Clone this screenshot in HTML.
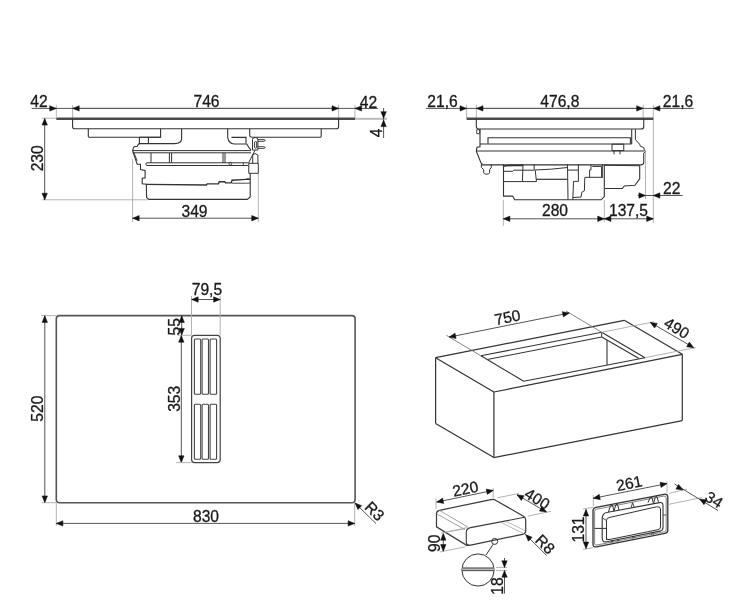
<!DOCTYPE html>
<html><head><meta charset="utf-8"><style>
html,body{margin:0;padding:0;background:#fff;}
svg{display:block;font-family:"Liberation Sans",sans-serif;will-change:transform;}
</style></head><body>
<svg width="750" height="600" viewBox="0 0 750 600">
<rect width="750" height="600" fill="#fff"/>
<line x1="56.3" y1="105" x2="56.3" y2="117" stroke="#aaa" stroke-width="0.9"/>
<line x1="72.6" y1="105" x2="72.6" y2="119" stroke="#aaa" stroke-width="0.9"/>
<line x1="338.6" y1="105" x2="338.6" y2="119" stroke="#aaa" stroke-width="0.9"/>
<line x1="355" y1="105" x2="355" y2="119" stroke="#aaa" stroke-width="0.9"/>
<line x1="31.7" y1="108.4" x2="378" y2="108.4" stroke="#555" stroke-width="1.0"/>
<path d="M56.30,108.40 L49.70,111.10 L49.70,105.70 Z" fill="#111" stroke="#111" stroke-width="0.5" stroke-linejoin="round"/>
<line x1="72.6" y1="108.4" x2="338.6" y2="108.4" stroke="#555" stroke-width="1.0"/>
<path d="M72.60,108.40 L79.20,105.70 L79.20,111.10 Z" fill="#111" stroke="#111" stroke-width="0.5" stroke-linejoin="round"/>
<path d="M338.60,108.40 L332.00,111.10 L332.00,105.70 Z" fill="#111" stroke="#111" stroke-width="0.5" stroke-linejoin="round"/>
<path d="M355.00,108.40 L361.60,105.70 L361.60,111.10 Z" fill="#111" stroke="#111" stroke-width="0.5" stroke-linejoin="round"/>
<text x="0" y="5.98" font-size="15.6" text-anchor="middle" fill="#1a1a1a" stroke="#1a1a1a" stroke-width="0.3" transform="translate(38.9 101.1) rotate(0) scale(1.0 1)">42</text>
<text x="0" y="5.98" font-size="15.6" text-anchor="middle" fill="#1a1a1a" stroke="#1a1a1a" stroke-width="0.3" transform="translate(206.5 100.7) rotate(0) scale(1.0 1)">746</text>
<text x="0" y="5.98" font-size="15.6" text-anchor="middle" fill="#1a1a1a" stroke="#1a1a1a" stroke-width="0.3" transform="translate(368.5 101.6) rotate(0) scale(1.0 1)">42</text>
<line x1="355" y1="118.8" x2="387" y2="118.8" stroke="#bbb" stroke-width="2.0"/>
<line x1="339" y1="128.6" x2="386" y2="128.6" stroke="#aaa" stroke-width="0.0"/>
<line x1="383.6" y1="108" x2="383.6" y2="138" stroke="#555" stroke-width="1.0"/>
<path d="M383.60,118.30 L380.90,111.70 L386.30,111.70 Z" fill="#111" stroke="#111" stroke-width="0.5" stroke-linejoin="round"/>
<path d="M383.60,120.00 L386.30,126.60 L380.90,126.60 Z" fill="#111" stroke="#111" stroke-width="0.5" stroke-linejoin="round"/>
<text x="0" y="5.98" font-size="15.6" text-anchor="middle" fill="#1a1a1a" stroke="#1a1a1a" stroke-width="0.3" transform="translate(376.2 132.9) rotate(-90) scale(1.0 1)">4</text>
<line x1="41.7" y1="118.2" x2="56" y2="118.2" stroke="#aaa" stroke-width="0.9"/>
<line x1="41.7" y1="199.8" x2="148" y2="199.8" stroke="#aaa" stroke-width="0.9"/>
<line x1="44.7" y1="118.5" x2="44.7" y2="199.8" stroke="#555" stroke-width="1.0"/>
<path d="M44.70,118.50 L47.40,125.10 L42.00,125.10 Z" fill="#111" stroke="#111" stroke-width="0.5" stroke-linejoin="round"/>
<path d="M44.70,199.80 L42.00,193.20 L47.40,193.20 Z" fill="#111" stroke="#111" stroke-width="0.5" stroke-linejoin="round"/>
<text x="0" y="5.98" font-size="15.6" text-anchor="middle" fill="#1a1a1a" stroke="#1a1a1a" stroke-width="0.3" transform="translate(37.5 158.3) rotate(-90) scale(1.0 1)">230</text>
<line x1="132.6" y1="159" x2="132.6" y2="222" stroke="#aaa" stroke-width="0.9"/>
<line x1="258.3" y1="173.7" x2="258.3" y2="222" stroke="#aaa" stroke-width="0.9"/>
<line x1="132.6" y1="218.2" x2="258.3" y2="218.2" stroke="#555" stroke-width="1.0"/>
<path d="M132.60,218.20 L139.20,215.50 L139.20,220.90 Z" fill="#111" stroke="#111" stroke-width="0.5" stroke-linejoin="round"/>
<path d="M258.30,218.20 L251.70,220.90 L251.70,215.50 Z" fill="#111" stroke="#111" stroke-width="0.5" stroke-linejoin="round"/>
<text x="0" y="5.98" font-size="15.6" text-anchor="middle" fill="#1a1a1a" stroke="#1a1a1a" stroke-width="0.3" transform="translate(194.5 211.2) rotate(0) scale(1.0 1)">349</text>
<line x1="56.3" y1="118.8" x2="355" y2="118.8" stroke="#4a4a4a" stroke-width="2.4"/>
<path d="M72.6,119 V126.4 Q72.6,128.8 75,128.8 H336.2 Q338.6,128.8 338.6,126.4 V119" stroke="#333" stroke-width="1.1" fill="none" />
<path d="M88.3,128.8 V136.6 Q88.3,137.2 89,137.2 H160.6 V128.8" stroke="#333" stroke-width="1.1" fill="none" />
<path d="M249.7,128.8 V135.5 Q249.9,137.2 252.6,137.2 H320.5 Q321.2,137.2 321.2,136.6 V128.8" stroke="#333" stroke-width="1.1" fill="none" />
<path d="M139.4,137.2 H160.6 M181.6,128.8 V138.5 Q181.6,143.4 174.5,143.6 H139.4 V137.2 M148.4,137.2 V143.5" stroke="#333" stroke-width="1.1" fill="none" />
<path d="M227.7,128.8 V137.4 Q228.8,144 234.3,144 H246.8 L249,147.7 L251,149.9 M231.4,137.4 H246 V143.3" stroke="#333" stroke-width="1.1" fill="none" />
<path d="M139.4,143.5 L138.4,144.2 L137.2,146.25 L134.25,146.7 L133.4,147.9 L132.6,150.8 L137.2,164.2 L140.5,164.2 L140.5,169.6 L145.1,170.4 L145.1,177.9 L142.2,178.3 L142.2,183.75 L146.3,184.2 L146.6,197.5 L149,199.4 L247.2,199.4 L250.2,197 L250.2,173.5" stroke="#333" stroke-width="1.1" fill="none" />
<line x1="132.6" y1="150.6" x2="251" y2="150.6" stroke="#333" stroke-width="1.0"/>
<line x1="132.8" y1="152.8" x2="251" y2="152.8" stroke="#333" stroke-width="1.0"/>
<line x1="133.8" y1="152.5" x2="137.2" y2="160.8" stroke="#333" stroke-width="0.9"/>
<path d="M146.5,162.8 H248.3 M146.5,165.5 H248.3 M146.5,162.8 Q145,164.1 146.5,165.5" stroke="#333" stroke-width="1.0" fill="none" />
<line x1="151" y1="153" x2="151" y2="162.8" stroke="#333" stroke-width="1.0"/>
<line x1="169.4" y1="153" x2="169.4" y2="162.8" stroke="#333" stroke-width="1.0"/>
<line x1="171.6" y1="153" x2="171.6" y2="162.8" stroke="#333" stroke-width="1.0"/>
<line x1="223" y1="153" x2="223" y2="162.8" stroke="#333" stroke-width="1.0"/>
<line x1="225" y1="153" x2="225" y2="162.8" stroke="#333" stroke-width="1.0"/>
<circle cx="230.3" cy="163.7" r="1.4" fill="none" stroke="#333" stroke-width="0.8"/>
<path d="M146.3,184.4 L206.4,185 L207.2,183.9 L218.4,183.9 L219.2,181.8 L224.8,181.8 L225.6,182.9 L231.2,182.9 L232,180.2 L246.4,179.4 L250.2,179.4" stroke="#333" stroke-width="1.4" fill="none" />
<path d="M246.4,178.8 Q248.5,178.6 250.2,179 M246.4,183.2 Q248.5,183.4 250.2,183" stroke="#333" stroke-width="0.9" fill="none" />
<line x1="232" y1="183.2" x2="246.4" y2="183.2" stroke="#333" stroke-width="0.9"/>
<path d="M252.5,150 V139.5 Q252.5,137.5 255.2,137.5 Q257.9,137.5 257.9,139.5 V150 Z M254.6,142 Q255.6,140.8 256.7,142 V147.6 Q255.6,148.8 254.6,147.6 Z" stroke="#333" stroke-width="1.0" fill="none" />
<path d="M257.9,139.6 H264 L265.4,140.4 L264,141.3 H257.9" stroke="#333" stroke-width="0.9" fill="none" />
<path d="M257.9,146.7 H264 L265.4,147.5 L264,148.4 H257.9" stroke="#333" stroke-width="0.9" fill="none" />
<path d="M248.75,163.3 H258.3 V173.3 H248.75 Z M255,150.2 L248.5,163.1 M252.7,155 V163.3 M257.9,155 V163.3 M252.7,155 Q255,152 257.9,155" stroke="#333" stroke-width="1.0" fill="none" />
<line x1="243.3" y1="162.5" x2="243.3" y2="165.3" stroke="#333" stroke-width="0.8"/>
<line x1="466.6" y1="105" x2="466.6" y2="118" stroke="#aaa" stroke-width="0.9"/>
<line x1="476.4" y1="105" x2="476.4" y2="119" stroke="#aaa" stroke-width="0.9"/>
<line x1="643.2" y1="105" x2="643.2" y2="119" stroke="#aaa" stroke-width="0.9"/>
<line x1="653.3" y1="105" x2="653.3" y2="223" stroke="#aaa" stroke-width="0.9"/>
<line x1="426" y1="108.4" x2="693.6" y2="108.4" stroke="#555" stroke-width="1.0"/>
<path d="M466.60,108.40 L460.00,111.10 L460.00,105.70 Z" fill="#111" stroke="#111" stroke-width="0.5" stroke-linejoin="round"/>
<line x1="476.4" y1="108.4" x2="643.2" y2="108.4" stroke="#555" stroke-width="1.0"/>
<path d="M476.40,108.40 L483.00,105.70 L483.00,111.10 Z" fill="#111" stroke="#111" stroke-width="0.5" stroke-linejoin="round"/>
<path d="M643.20,108.40 L636.60,111.10 L636.60,105.70 Z" fill="#111" stroke="#111" stroke-width="0.5" stroke-linejoin="round"/>
<path d="M653.30,108.40 L659.90,105.70 L659.90,111.10 Z" fill="#111" stroke="#111" stroke-width="0.5" stroke-linejoin="round"/>
<text x="0" y="5.98" font-size="15.6" text-anchor="middle" fill="#1a1a1a" stroke="#1a1a1a" stroke-width="0.3" transform="translate(442.5 101.3) rotate(0) scale(1.0 1)">21,6</text>
<text x="0" y="5.98" font-size="15.6" text-anchor="middle" fill="#1a1a1a" stroke="#1a1a1a" stroke-width="0.3" transform="translate(559.8 101.2) rotate(0) scale(1.0 1)">476,8</text>
<text x="0" y="5.98" font-size="15.6" text-anchor="middle" fill="#1a1a1a" stroke="#1a1a1a" stroke-width="0.3" transform="translate(678 101.2) rotate(0) scale(1.0 1)">21,6</text>
<line x1="466.6" y1="118.7" x2="653.3" y2="118.7" stroke="#4a4a4a" stroke-width="2.4"/>
<path d="M476.3,119 V126.3 Q476.5,129 478.7,129 H640.8 Q643.75,129 643.75,126.7 V119" stroke="#333" stroke-width="1.1" fill="none" />
<path d="M476.7,129.7 H479.7 V133.7 H476.7 Z" stroke="#333" stroke-width="0.9" fill="none" />
<path d="M488,143.8 V137.7 H630.4 V143.8 M631.7,129.2 V144" stroke="#333" stroke-width="1.1" fill="none" />
<path d="M480,129 L480,144 L480,146.7 L477,147.3 L476.3,151.3 L481,163 L482.5,164.4" stroke="#333" stroke-width="1.1" fill="none" />
<line x1="480" y1="144" x2="631.7" y2="144" stroke="#333" stroke-width="1.1"/>
<line x1="476.3" y1="151.0" x2="644" y2="151.0" stroke="#333" stroke-width="1.1"/>
<path d="M481,164.9 H640.4 Q643.75,164.9 643.75,162.5 V153.3" stroke="#333" stroke-width="1.1" fill="none" />
<path d="M481.3,164.5 V167.3 L483.7,169.7 V172.8 Q484,174.2 486.5,174.2 Q489.3,174.2 489.6,172.8 V169.7 L491.3,167.3 V164.5" stroke="#333" stroke-width="1.0" fill="none" />
<path d="M635.4,129.2 L635.4,139.6 L639.6,144.2 L640.4,146.25 L643.75,147.5 L644.2,150 L645.4,151.25 L643.75,153.3" stroke="#333" stroke-width="1.0" fill="none" />
<path d="M612,144.2 H623.75 V150.6 H612 Z M614,150.6 V154.3 M620,150.6 V154.3" stroke="#333" stroke-width="1.0" fill="none" />
<path d="M503.5,164.3 L503.5,196.1 L512.7,196.1 L514.6,199.6 L601.3,199.8 L604.3,196.5 L604.3,164.5" stroke="#333" stroke-width="1.1" fill="none" />
<path d="M503.5,166.3 Q507,165.6 511.8,165.4 H523" stroke="#333" stroke-width="1.6" fill="none" />
<path d="M503.5,171.3 L512.7,171.3 L513.7,170.2 L534.2,170.2" stroke="#333" stroke-width="1.0" fill="none" />
<line x1="523" y1="164.3" x2="522.4" y2="181.6" stroke="#333" stroke-width="1.0"/>
<line x1="534.2" y1="164.3" x2="534.2" y2="170.2" stroke="#333" stroke-width="1.0"/>
<line x1="535.2" y1="170.2" x2="536.5" y2="181.6" stroke="#333" stroke-width="1.0"/>
<line x1="503.5" y1="181.6" x2="536.5" y2="181.6" stroke="#333" stroke-width="1.0"/>
<line x1="536.5" y1="179.3" x2="567.5" y2="179.3" stroke="#333" stroke-width="1.2"/>
<path d="M535,170 Q552,169.5 567.5,167.5" stroke="#333" stroke-width="1.0" fill="none" />
<line x1="567.5" y1="164.5" x2="568.0" y2="199.8" stroke="#333" stroke-width="1.0"/>
<path d="M567.5,170.1 L578.4,170.1 L578.4,181.4 L573.5,181.4 L572.8,199.8" stroke="#333" stroke-width="1.0" fill="none" />
<line x1="578.4" y1="164.5" x2="578.4" y2="170.1" stroke="#333" stroke-width="1.0"/>
<path d="M591,164.5 L591,169.8 L589.6,170.1 L589.6,177.3" stroke="#333" stroke-width="1.0" fill="none" />
<line x1="584.8" y1="177.3" x2="602" y2="177.3" stroke="#333" stroke-width="1.0"/>
<path d="M584.8,177.3 L584.4,190.8 L581.8,192.3 L581,197.1 L572.8,197.5" stroke="#333" stroke-width="1.0" fill="none" />
<path d="M592.3,166.4 L601.6,166.4 L601.6,177.3" stroke="#333" stroke-width="1.0" fill="none" />
<line x1="602.3" y1="164.5" x2="602.3" y2="178" stroke="#333" stroke-width="1.0"/>
<path d="M605,165.3 L639.7,165.8 L639.7,178.7 L635,185.3 L624.3,186 L622.3,188.5 L605,188.5" stroke="#333" stroke-width="1.1" fill="none" />
<line x1="503.3" y1="200" x2="503.3" y2="226" stroke="#aaa" stroke-width="0.9"/>
<line x1="604.3" y1="200" x2="604.3" y2="222" stroke="#aaa" stroke-width="0.9"/>
<line x1="645.5" y1="152" x2="645.5" y2="199" stroke="#aaa" stroke-width="0.9"/>
<line x1="503.3" y1="218.8" x2="604.3" y2="218.8" stroke="#555" stroke-width="1.0"/>
<path d="M503.30,218.80 L509.90,216.10 L509.90,221.50 Z" fill="#111" stroke="#111" stroke-width="0.5" stroke-linejoin="round"/>
<path d="M604.30,218.80 L597.70,221.50 L597.70,216.10 Z" fill="#111" stroke="#111" stroke-width="0.5" stroke-linejoin="round"/>
<line x1="604.3" y1="218.8" x2="653.3" y2="218.8" stroke="#555" stroke-width="1.0"/>
<path d="M604.30,218.80 L610.90,216.10 L610.90,221.50 Z" fill="#111" stroke="#111" stroke-width="0.5" stroke-linejoin="round"/>
<path d="M653.30,218.80 L646.70,221.50 L646.70,216.10 Z" fill="#111" stroke="#111" stroke-width="0.5" stroke-linejoin="round"/>
<text x="0" y="5.98" font-size="15.6" text-anchor="middle" fill="#1a1a1a" stroke="#1a1a1a" stroke-width="0.3" transform="translate(555 210) rotate(0) scale(1.0 1)">280</text>
<text x="0" y="5.98" font-size="15.6" text-anchor="middle" fill="#1a1a1a" stroke="#1a1a1a" stroke-width="0.3" transform="translate(628.5 210.3) rotate(0) scale(1.0 1)">137,5</text>
<line x1="637.7" y1="195.5" x2="682.6" y2="195.5" stroke="#555" stroke-width="1.0"/>
<path d="M645.50,195.50 L638.90,198.20 L638.90,192.80 Z" fill="#111" stroke="#111" stroke-width="0.5" stroke-linejoin="round"/>
<path d="M653.30,195.50 L659.90,192.80 L659.90,198.20 Z" fill="#111" stroke="#111" stroke-width="0.5" stroke-linejoin="round"/>
<text x="0" y="5.98" font-size="15.6" text-anchor="middle" fill="#1a1a1a" stroke="#1a1a1a" stroke-width="0.3" transform="translate(671.7 188.3) rotate(0) scale(1.0 1)">22</text>
<path d="M56.3,319 Q56.3,315.6 59.6,315.6 H351.8 Q355.1,315.6 355.1,319 V499.5 Q355.1,502.8 351.8,502.8 H59.6 Q56.3,502.8 56.3,499.5 Z" stroke="#555" stroke-width="1.6" fill="none" />
<line x1="41.3" y1="315.6" x2="56" y2="315.6" stroke="#aaa" stroke-width="0.9"/>
<line x1="42" y1="502.7" x2="56" y2="502.7" stroke="#aaa" stroke-width="0.9"/>
<line x1="44.8" y1="315.8" x2="44.8" y2="502.5" stroke="#555" stroke-width="1.0"/>
<path d="M44.80,315.80 L47.50,322.40 L42.10,322.40 Z" fill="#111" stroke="#111" stroke-width="0.5" stroke-linejoin="round"/>
<path d="M44.80,502.50 L42.10,495.90 L47.50,495.90 Z" fill="#111" stroke="#111" stroke-width="0.5" stroke-linejoin="round"/>
<text x="0" y="5.98" font-size="15.6" text-anchor="middle" fill="#1a1a1a" stroke="#1a1a1a" stroke-width="0.3" transform="translate(37.4 408.7) rotate(-90) scale(1.0 1)">520</text>
<line x1="56.3" y1="503" x2="56.3" y2="526" stroke="#aaa" stroke-width="0.9"/>
<line x1="354.7" y1="503" x2="354.7" y2="526" stroke="#aaa" stroke-width="0.9"/>
<line x1="56.3" y1="523.4" x2="354.7" y2="523.4" stroke="#555" stroke-width="1.0"/>
<path d="M56.30,523.40 L62.90,520.70 L62.90,526.10 Z" fill="#111" stroke="#111" stroke-width="0.5" stroke-linejoin="round"/>
<path d="M354.70,523.40 L348.10,526.10 L348.10,520.70 Z" fill="#111" stroke="#111" stroke-width="0.5" stroke-linejoin="round"/>
<text x="0" y="5.98" font-size="15.6" text-anchor="middle" fill="#1a1a1a" stroke="#1a1a1a" stroke-width="0.3" transform="translate(206 516.3) rotate(0) scale(1.0 1)">830</text>
<line x1="355.1" y1="503.0" x2="376" y2="523.6" stroke="#555" stroke-width="1.0"/>
<path d="M355.10,503.00 L361.70,505.69 L357.92,509.55 Z" fill="#111" stroke="#111" stroke-width="0.5" stroke-linejoin="round"/>
<text x="0" y="5.98" font-size="15.6" text-anchor="middle" fill="#1a1a1a" stroke="#1a1a1a" stroke-width="0.3" transform="translate(375.1 510.7) rotate(45) scale(1.0 1)">R3</text>
<path d="M191.6,338.3 Q191.6,335.3 194.6,335.3 H217.2 Q220.2,335.3 220.2,338.3 V459.6 Q220.2,462.6 217.2,462.6 H194.6 Q191.6,462.6 191.6,459.6 Z" stroke="#444" stroke-width="1.2" fill="none" />
<rect x="194.4" y="339" width="6.299999999999983" height="55.19999999999999" rx="1" fill="none" stroke="#444" stroke-width="1.1"/>
<rect x="194.4" y="404.2" width="6.299999999999983" height="55.0" rx="1" fill="none" stroke="#444" stroke-width="1.1"/>
<rect x="202.1" y="339" width="6.400000000000006" height="55.19999999999999" rx="1" fill="none" stroke="#444" stroke-width="1.1"/>
<rect x="202.1" y="404.2" width="6.400000000000006" height="55.0" rx="1" fill="none" stroke="#444" stroke-width="1.1"/>
<rect x="210.1" y="339" width="6.5" height="55.19999999999999" rx="1" fill="none" stroke="#444" stroke-width="1.1"/>
<rect x="210.1" y="404.2" width="6.5" height="55.0" rx="1" fill="none" stroke="#444" stroke-width="1.1"/>
<line x1="191.5" y1="296" x2="191.5" y2="335" stroke="#aaa" stroke-width="0.9"/>
<line x1="220.2" y1="296" x2="220.2" y2="335" stroke="#aaa" stroke-width="0.9"/>
<line x1="191.6" y1="299.5" x2="220.2" y2="299.5" stroke="#555" stroke-width="1.0"/>
<path d="M191.60,299.50 L198.20,296.80 L198.20,302.20 Z" fill="#111" stroke="#111" stroke-width="0.5" stroke-linejoin="round"/>
<path d="M220.20,299.50 L213.60,302.20 L213.60,296.80 Z" fill="#111" stroke="#111" stroke-width="0.5" stroke-linejoin="round"/>
<text x="0" y="5.98" font-size="15.6" text-anchor="middle" fill="#1a1a1a" stroke="#1a1a1a" stroke-width="0.3" transform="translate(206.9 289.4) rotate(0) scale(1.0 1)">79,5</text>
<line x1="178" y1="335.3" x2="191.5" y2="335.3" stroke="#aaa" stroke-width="0.9"/>
<line x1="181.7" y1="315.8" x2="181.7" y2="335.0" stroke="#555" stroke-width="1.0"/>
<path d="M181.70,315.80 L184.40,322.40 L179.00,322.40 Z" fill="#111" stroke="#111" stroke-width="0.5" stroke-linejoin="round"/>
<path d="M181.70,335.00 L179.00,328.40 L184.40,328.40 Z" fill="#111" stroke="#111" stroke-width="0.5" stroke-linejoin="round"/>
<line x1="181.3" y1="335.6" x2="181.3" y2="462.4" stroke="#555" stroke-width="1.0"/>
<path d="M181.30,335.60 L184.00,342.20 L178.60,342.20 Z" fill="#111" stroke="#111" stroke-width="0.5" stroke-linejoin="round"/>
<path d="M181.30,462.40 L178.60,455.80 L184.00,455.80 Z" fill="#111" stroke="#111" stroke-width="0.5" stroke-linejoin="round"/>
<line x1="176" y1="462.6" x2="191.5" y2="462.6" stroke="#aaa" stroke-width="0.9"/>
<text x="0" y="5.98" font-size="15.6" text-anchor="middle" fill="#1a1a1a" stroke="#1a1a1a" stroke-width="0.3" transform="translate(173.9 326.8) rotate(-90) scale(1.0 1)">55</text>
<text x="0" y="5.98" font-size="15.6" text-anchor="middle" fill="#1a1a1a" stroke="#1a1a1a" stroke-width="0.3" transform="translate(174.5 398.8) rotate(-90) scale(1.0 1)">353</text>
<line x1="435.6" y1="357.7" x2="624.3" y2="320.3" stroke="#333" stroke-width="1.2"/>
<line x1="624.3" y1="320.3" x2="682.3" y2="354.3" stroke="#333" stroke-width="1.2"/>
<line x1="435.6" y1="357.7" x2="493.9" y2="392" stroke="#333" stroke-width="1.2"/>
<line x1="493.9" y1="392" x2="682.3" y2="354.3" stroke="#333" stroke-width="1.2"/>
<line x1="435.6" y1="357.7" x2="435.6" y2="423.5" stroke="#333" stroke-width="1.2"/>
<line x1="493.9" y1="392" x2="493.9" y2="457.6" stroke="#333" stroke-width="1.2"/>
<line x1="682.3" y1="354.3" x2="682.3" y2="420.6" stroke="#333" stroke-width="1.2"/>
<line x1="435.6" y1="423.5" x2="493.9" y2="457.6" stroke="#333" stroke-width="1.2"/>
<line x1="493.9" y1="457.6" x2="682.3" y2="420.6" stroke="#333" stroke-width="1.2"/>
<line x1="480.9" y1="355.8" x2="601.7" y2="332.3" stroke="#333" stroke-width="1.1"/>
<line x1="480.9" y1="355.8" x2="523.7" y2="381.3" stroke="#333" stroke-width="1.1"/>
<line x1="523.7" y1="381.3" x2="645" y2="357.7" stroke="#333" stroke-width="1.1"/>
<line x1="601.7" y1="332.3" x2="645" y2="357.7" stroke="#333" stroke-width="1.1"/>
<line x1="487.4" y1="359.5" x2="601.7" y2="337" stroke="#333" stroke-width="1.1"/>
<line x1="601.7" y1="332.3" x2="601.7" y2="337" stroke="#333" stroke-width="1.0"/>
<line x1="601.7" y1="337" x2="639" y2="358.6" stroke="#333" stroke-width="1.1"/>
<line x1="607" y1="340.1" x2="607" y2="365" stroke="#333" stroke-width="1.1"/>
<line x1="446.3" y1="335.3" x2="480.9" y2="355.8" stroke="#777" stroke-width="0.9"/>
<line x1="566" y1="311" x2="601.7" y2="332.3" stroke="#777" stroke-width="0.9"/>
<line x1="449.1" y1="337.1" x2="569.3" y2="313.0" stroke="#555" stroke-width="1.0"/>
<path d="M449.10,337.10 L455.04,333.16 L456.10,338.45 Z" fill="#111" stroke="#111" stroke-width="0.5" stroke-linejoin="round"/>
<path d="M569.30,313.00 L563.36,316.94 L562.30,311.65 Z" fill="#111" stroke="#111" stroke-width="0.5" stroke-linejoin="round"/>
<text x="0" y="5.98" font-size="15.6" text-anchor="middle" fill="#1a1a1a" stroke="#1a1a1a" stroke-width="0.3" transform="translate(507.3 316.8) rotate(-11.3) scale(1.0 1)">750</text>
<line x1="601.7" y1="332.3" x2="654" y2="321.8" stroke="#aaa" stroke-width="0.9"/>
<line x1="645" y1="357.7" x2="696" y2="347.5" stroke="#aaa" stroke-width="0.9"/>
<line x1="650.3" y1="322.4" x2="693.7" y2="347.7" stroke="#555" stroke-width="1.0"/>
<path d="M650.30,322.40 L657.36,323.39 L654.64,328.06 Z" fill="#111" stroke="#111" stroke-width="0.5" stroke-linejoin="round"/>
<path d="M693.70,347.70 L686.64,346.71 L689.36,342.04 Z" fill="#111" stroke="#111" stroke-width="0.5" stroke-linejoin="round"/>
<text x="0" y="5.98" font-size="15.6" text-anchor="middle" fill="#1a1a1a" stroke="#1a1a1a" stroke-width="0.3" transform="translate(677 327.6) rotate(31) scale(1.0 1)">490</text>
<path d="M436.5,513.5 Q436.5,511 439.5,510.3 L491,499.6 Q493.9,499 496,500.4 L523.5,516.3 Q525.7,517.5 525.7,520 V531 Q525.7,533.7 522.5,534.3 L469.5,545.3 L466.7,545.3 L436.5,526.8 Z" stroke="#3a3a3a" stroke-width="1.2" fill="none" />
<path d="M466.3,532 Q466.3,528.6 470.5,527.6 L524.5,517.3 M466.3,532 V542.5 Q466.3,545.2 469.5,545.3" stroke="#3a3a3a" stroke-width="1.1" fill="none" />
<line x1="439.3" y1="510.3" x2="468.1" y2="527.2" stroke="#999" stroke-width="0.9"/>
<line x1="437.2" y1="514.2" x2="465" y2="529.6" stroke="#999" stroke-width="0.9"/>
<line x1="446.8" y1="532.2" x2="465" y2="528.7" stroke="#aaa" stroke-width="0.9"/>
<line x1="500.6" y1="522.3" x2="523.8" y2="533.6" stroke="#aaa" stroke-width="0.8"/>
<line x1="505.7" y1="521.3" x2="525" y2="530.6" stroke="#aaa" stroke-width="0.8"/>
<line x1="436" y1="498.5" x2="436" y2="509" stroke="#aaa" stroke-width="0.9"/>
<line x1="493.2" y1="488.2" x2="493.2" y2="498" stroke="#aaa" stroke-width="0.9"/>
<line x1="436.7" y1="502.1" x2="493.2" y2="490.4" stroke="#555" stroke-width="1.0"/>
<path d="M436.70,502.10 L442.62,498.12 L443.71,503.41 Z" fill="#111" stroke="#111" stroke-width="0.5" stroke-linejoin="round"/>
<path d="M493.20,490.40 L487.28,494.38 L486.19,489.09 Z" fill="#111" stroke="#111" stroke-width="0.5" stroke-linejoin="round"/>
<text x="0" y="5.98" font-size="15.6" text-anchor="middle" fill="#1a1a1a" stroke="#1a1a1a" stroke-width="0.3" transform="translate(465.3 488.2) rotate(-11.7) scale(1.0 1)">220</text>
<line x1="497.6" y1="497.7" x2="519" y2="493.5" stroke="#aaa" stroke-width="0.9"/>
<line x1="527.7" y1="516.1" x2="551" y2="511.3" stroke="#aaa" stroke-width="0.9"/>
<line x1="517" y1="494.8" x2="546.5" y2="512" stroke="#555" stroke-width="1.0"/>
<path d="M517.00,494.80 L524.06,495.79 L521.34,500.46 Z" fill="#111" stroke="#111" stroke-width="0.5" stroke-linejoin="round"/>
<path d="M546.50,512.00 L539.44,511.01 L542.16,506.34 Z" fill="#111" stroke="#111" stroke-width="0.5" stroke-linejoin="round"/>
<text x="0" y="5.98" font-size="15.6" text-anchor="middle" fill="#1a1a1a" stroke="#1a1a1a" stroke-width="0.3" transform="translate(537.6 498.3) rotate(31) scale(1.0 1)">400</text>
<line x1="525.6" y1="534.6" x2="546.8" y2="555.6" stroke="#555" stroke-width="1.0"/>
<path d="M525.60,534.60 L532.18,537.36 L528.36,541.18 Z" fill="#111" stroke="#111" stroke-width="0.5" stroke-linejoin="round"/>
<text x="0" y="5.98" font-size="15.6" text-anchor="middle" fill="#1a1a1a" stroke="#1a1a1a" stroke-width="0.3" transform="translate(545.6 543.8) rotate(45) scale(1.0 1)">R8</text>
<line x1="441" y1="533" x2="467" y2="527.7" stroke="#aaa" stroke-width="0.9"/>
<line x1="439.7" y1="552" x2="465.5" y2="546.8" stroke="#aaa" stroke-width="0.9"/>
<line x1="443.3" y1="533.6" x2="443.3" y2="551.2" stroke="#555" stroke-width="1.0"/>
<path d="M443.30,533.60 L446.00,540.20 L440.60,540.20 Z" fill="#111" stroke="#111" stroke-width="0.5" stroke-linejoin="round"/>
<path d="M443.30,551.20 L440.60,544.60 L446.00,544.60 Z" fill="#111" stroke="#111" stroke-width="0.5" stroke-linejoin="round"/>
<text x="0" y="5.98" font-size="15.6" text-anchor="middle" fill="#1a1a1a" stroke="#1a1a1a" stroke-width="0.3" transform="translate(434.3 543.3) rotate(-90) scale(1.0 1)">90</text>
<circle cx="494.7" cy="541.4" r="3" fill="none" stroke="#333" stroke-width="1"/>
<line x1="493.2" y1="544.2" x2="486" y2="555" stroke="#333" stroke-width="1.0"/>
<circle cx="478" cy="570" r="16.1" fill="none" stroke="#333" stroke-width="1.0"/>
<line x1="462" y1="569.3" x2="494" y2="569.3" stroke="#bbb" stroke-width="3.0"/>
<line x1="462" y1="568.0" x2="494" y2="568.0" stroke="#555" stroke-width="1.1"/>
<line x1="462" y1="570.6" x2="494" y2="570.6" stroke="#555" stroke-width="1.1"/>
<line x1="496" y1="567.4" x2="507" y2="567.4" stroke="#aaa" stroke-width="0.9"/>
<line x1="496" y1="570.6" x2="507" y2="570.6" stroke="#aaa" stroke-width="0.9"/>
<line x1="504.5" y1="558" x2="504.5" y2="567.4" stroke="#555" stroke-width="1.0"/>
<path d="M504.50,567.40 L501.80,560.80 L507.20,560.80 Z" fill="#111" stroke="#111" stroke-width="0.5" stroke-linejoin="round"/>
<line x1="504.5" y1="570.6" x2="504.5" y2="593.6" stroke="#555" stroke-width="1.0"/>
<path d="M504.50,570.60 L507.20,577.20 L501.80,577.20 Z" fill="#111" stroke="#111" stroke-width="0.5" stroke-linejoin="round"/>
<text x="0" y="5.98" font-size="15.6" text-anchor="middle" fill="#1a1a1a" stroke="#1a1a1a" stroke-width="0.3" transform="translate(497 586) rotate(-90) scale(1.0 1)">18</text>
<path d="M593,511 Q593,508 596,507.4 L664,494.3 Q667.8,493.6 667.8,497 V530 Q667.8,532.8 665,533.3 L596.5,546.8 Q593,547.5 593,544 Z" stroke="#333" stroke-width="1.3" fill="none" />
<path d="M594.6,511.6 Q594.6,509.6 596.6,509.2 L663.6,496.1 Q666.2,495.6 666.2,498 V529.6 Q666.2,531.4 664.2,531.8 L597,545 Q594.6,545.5 594.6,543.3 Z" stroke="#666" stroke-width="0.8" fill="none" />
<path d="M602.2,538 V518.5 Q602.2,513 607.8,512.3 L659.5,502.6 Q663,502 663,505.5 V527.5 Q663,530.5 660,531.1 L606.5,541.8 Q602.2,542.6 602.2,538 Z" stroke="#333" stroke-width="1.1" fill="none" />
<path d="M606.5,540 V520.5 Q606.5,518 609,517.6 L656.5,506.8 Q660.5,506.2 660.5,509 V527 Q660.5,529.2 658,529.7 L609,539.6 Q606.5,540.1 606.5,538 Z" stroke="#333" stroke-width="1.0" fill="none" />
<line x1="602.5" y1="518" x2="606.5" y2="520.5" stroke="#333" stroke-width="0.9"/>
<line x1="594.6" y1="528.4" x2="606.5" y2="528.4" stroke="#333" stroke-width="1.0"/>
<line x1="666.2" y1="515" x2="663" y2="515" stroke="#333" stroke-width="0.8"/>
<path d="M608.3,512.4 L610.5,505.6 L612.5,505.2 L614,511.3 M614,511.3 L615.8,504.6 L617.6,504.3 L619,510.2" stroke="#333" stroke-width="1.0" fill="none" />
<path d="M648,502.5 L650,497.8 L652,497.4 L653.5,503.7 M653.5,503.7 L655.3,497 L657,496.7 L658.5,502.4" stroke="#333" stroke-width="1.0" fill="none" />
<path d="M631.2,507.8 L632.5,502.5 L634.2,507.2" stroke="#333" stroke-width="0.9" fill="none" />
<path d="M611,542.7 L612,540.4 L613,542.5 M617,541.6 L618,539.3 L619,541.4 M632.5,538.5 L633.5,536.2 L634.5,538.3 M651.5,534.7 L652.5,532.4 L653.5,534.5" stroke="#333" stroke-width="0.8" fill="none" />
<line x1="593.3" y1="495" x2="593.3" y2="506.3" stroke="#aaa" stroke-width="0.9"/>
<line x1="667" y1="481.3" x2="667" y2="492.7" stroke="#aaa" stroke-width="0.9"/>
<line x1="593.3" y1="498.3" x2="667" y2="483.6" stroke="#555" stroke-width="1.0"/>
<path d="M593.30,498.30 L599.24,494.36 L600.30,499.66 Z" fill="#111" stroke="#111" stroke-width="0.5" stroke-linejoin="round"/>
<path d="M667.00,483.60 L661.06,487.54 L660.00,482.24 Z" fill="#111" stroke="#111" stroke-width="0.5" stroke-linejoin="round"/>
<text x="0" y="5.98" font-size="15.6" text-anchor="middle" fill="#1a1a1a" stroke="#1a1a1a" stroke-width="0.3" transform="translate(629 482.8) rotate(-11.3) scale(1.0 1)">261</text>
<line x1="583" y1="509" x2="593" y2="507.4" stroke="#aaa" stroke-width="0.9"/>
<line x1="583" y1="549.4" x2="593" y2="547.8" stroke="#aaa" stroke-width="0.9"/>
<line x1="586.0" y1="509.4" x2="586.0" y2="548.6" stroke="#555" stroke-width="1.0"/>
<path d="M586.00,509.40 L588.70,516.00 L583.30,516.00 Z" fill="#111" stroke="#111" stroke-width="0.5" stroke-linejoin="round"/>
<path d="M586.00,548.60 L583.30,542.00 L588.70,542.00 Z" fill="#111" stroke="#111" stroke-width="0.5" stroke-linejoin="round"/>
<text x="0" y="5.98" font-size="15.6" text-anchor="middle" fill="#1a1a1a" stroke="#1a1a1a" stroke-width="0.3" transform="translate(578.2 529.5) rotate(-90) scale(1.0 1)">131</text>
<line x1="669" y1="493.5" x2="687" y2="489" stroke="#aaa" stroke-width="0.9"/>
<line x1="668" y1="504.5" x2="702" y2="497.5" stroke="#aaa" stroke-width="0.9"/>
<line x1="674.5" y1="484" x2="718" y2="510.5" stroke="#555" stroke-width="1.0"/>
<path d="M683.00,490.00 L675.92,489.12 L678.57,484.41 Z" fill="#111" stroke="#111" stroke-width="0.5" stroke-linejoin="round"/>
<path d="M699.60,499.00 L706.67,499.96 L703.97,504.64 Z" fill="#111" stroke="#111" stroke-width="0.5" stroke-linejoin="round"/>
<text x="0" y="5.98" font-size="15.6" text-anchor="middle" fill="#1a1a1a" stroke="#1a1a1a" stroke-width="0.3" transform="translate(714.4 499.2) rotate(32) scale(1.0 1)">34</text>
</svg>
</body></html>
